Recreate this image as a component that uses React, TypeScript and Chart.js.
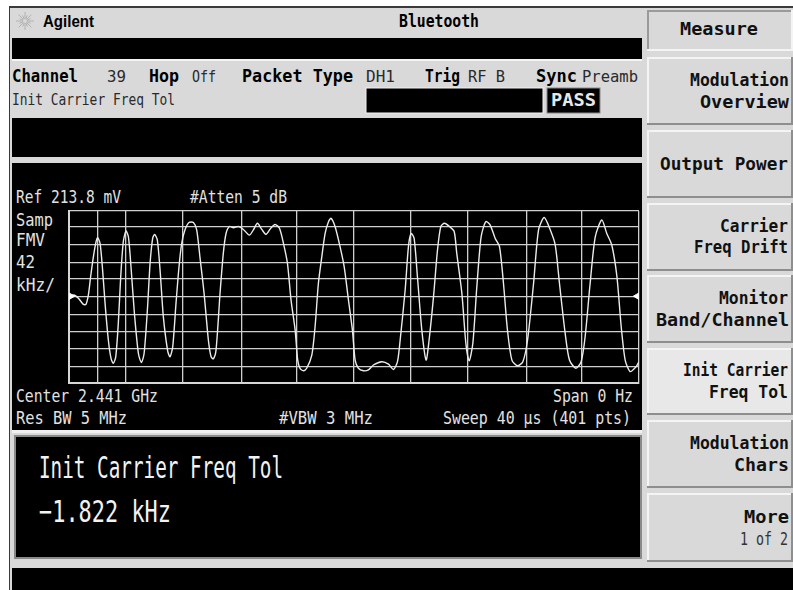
import React, { useEffect, useRef } from "react";
import { Chart, registerables } from "chart.js";

Chart.register(...registerables);

const timeUs = [0,0.35,0.66,1.01,1.19,1.36,1.52,1.71,1.9,2.01,2.18,2.34,2.53,2.76,2.95,3.11,3.28,3.46,3.63,3.81,4,4.17,4.35,4.59,4.87,5.08,5.27,5.5,5.69,5.87,6.01,6.2,6.39,6.62,6.93,7.09,7.28,7.51,7.72,7.91,8.14,8.42,8.73,8.96,9.2,9.48,9.78,9.97,10.13,10.32,10.6,10.83,11.02,11.26,11.54,11.89,12.24,12.66,12.94,13.22,13.53,13.83,14.16,14.46,14.77,15.05,15.33,15.58,15.87,16.05,16.22,16.45,16.68,17.04,17.27,17.5,17.74,17.97,18.21,18.39,18.67,19.02,19.31,19.61,19.89,20.08,20.31,20.66,21.01,21.36,21.95,22.42,22.77,23.05,23.24,23.59,23.82,24.01,24.22,24.45,24.76,25.06,25.27,25.58,25.86,26.09,26.35,26.7,27.03,27.21,27.57,27.85,28.08,28.34,28.62,28.92,29.25,29.55,29.91,30.21,30.49,30.77,31.08,31.47,31.85,32.18,32.6,32.95,33.35,33.77,34.12,34.42,34.82,35.12,35.57,35.94,36.22,36.57,36.93,37.39,37.74,38.09,38.45,38.75,39.03,39.38,39.8,40];
const freqKHz = [2,5,-3,-18,-18,5,50,98,135,145,131,74,-15,-105,-150,-162,-146,-64,50,135,161,147,74,-40,-138,-160,-138,-32,82,143,153,139,66,-48,-133,-146,-121,-15,74,131,164,182,182,164,94,9,-105,-146,-151,-129,9,107,155,172,169,172,165,151,164,180,165,153,168,177,168,131,82,-7,-81,-154,-175,-180,-174,-142,-72,33,98,155,184,192,172,123,74,-7,-81,-154,-174,-180,-178,-166,-158,-164,-177,-158,-105,17,123,155,143,50,-81,-154,-105,1,115,172,180,172,160,107,9,-113,-156,-113,25,147,184,176,143,123,33,-81,-154,-168,-158,-105,33,164,194,164,127,33,-89,-154,-174,-158,-97,33,147,188,155,127,50,-72,-154,-182,-170,-158];
const gridTimes = [0,2.04,4,8,12.1,16,20,24,28,32.1,36,40];
const gridFreqs = [210,171,127,85,44,2,-44,-85,-127,-171,-210];
const markerTimes = [0.12,39.88];
const markerFreq = [2,2];

type Label = [string, number, number, number, number?];
const MONO = "'DejaVu Sans Mono', monospace";

// text, left x, baseline y, fitted width
const headerBold: Label[] = [["Bluetooth",399,27,80]];
const statusBold: Label[] = [["Channel",12,82,66],["Hop",149,82,30],["Packet Type",242,82,111],["Trig",425,82,35],["Sync",536,82,41]];
const statusThin: Label[] = [["39",107,82,19],["Off",192,82,24],["DH1",366,82,29],["RF B",468,82,37],["Preamb",582,82,56],["Init Carrier Freq Tol",12,105,163]];
const traceText: Label[] = [["Ref 213.8 mV",16,203,105],["#Atten 5 dB",190,203,97],["Samp",16,226,37],["FMV",16,246,29],["42",16,268,19],["kHz/",16,291,39],["Center 2.441 GHz",16,402,142],["Res BW 5 MHz",16,424,111],["#VBW 3 MHz",279,424,94],["Span 0 Hz",553,402,80],["Sweep 40 µs (401 pts)",443,424,188]];
const softKeyBold: Label[] = [["Measure",680,35,78],["Modulation",690,86,99],["Overview",700,108,89],["Output Power",660,170,128],["Carrier",720,232,68],["Freq Drift",694,253,94],["Monitor",719,304,69],["Band/Channel",656,326,133],["Init Carrier",683,376,105],["Freq Tol",709,398,79],["Modulation",690,449,99],["Chars",734,471,55],["More",744,523,45]];
const softKeys = [[57,125],[130,198],[203,271],[275,343],[348,415],[420,488],[493,562]];
const rayAngles = [0,45,90,135,180,225,270,315,22,67,112,157,202,247,292,337];

function Text({ t, size, weight = 400, fill = "#000" }: { t: Label; size: number; weight?: number; fill?: string }) {
  return (
    <text x={t[1]} y={t[2]} textLength={t[3]} lengthAdjust="spacingAndGlyphs" fontFamily={MONO} fontSize={size} fontWeight={weight} fill={fill} xmlSpace="preserve">
      {t[0]}
    </text>
  );
}

export default function App() {
  const ref = useRef<HTMLCanvasElement>(null);
  useEffect(() => {
    document.body.style.margin = "0";
    document.body.style.background = "#fff";
    const chart = new Chart(ref.current!, {
      type: "line",
      data: {
        datasets: [
          {
            label: "Init Carrier Freq Tol",
            data: timeUs.map((x, i) => ({ x, y: freqKHz[i] })),
            borderColor: "#ececec",
            borderWidth: 1.4,
            pointRadius: 0,
            tension: 0.25,
            order: 1,
          },
          {
            label: "Markers",
            data: markerTimes.map((x, i) => ({ x, y: markerFreq[i] })),
            showLine: false,
            pointStyle: "triangle",
            pointRadius: 4,
            pointRotation: [90, 270],
            pointBackgroundColor: "#fff",
            pointBorderColor: "#fff",
            order: 0,
          },
        ],
      },
      options: {
        animation: false,
        responsive: false,
        layout: { padding: { left: 9, right: 11, top: 6, bottom: 7 } },
        plugins: { legend: { display: false }, tooltip: { enabled: false } },
        scales: {
          x: {
            type: "linear",
            min: 0,
            max: 40,
            afterBuildTicks: (a: any) => { a.ticks = gridTimes.map((value) => ({ value })); },
            ticks: { display: false },
            grid: { color: "#cfcfcf", lineWidth: 1.3, drawTicks: false },
            border: { color: "#d6d6d6", width: 2 },
          },
          y: {
            type: "linear",
            min: -210,
            max: 210,
            afterBuildTicks: (a: any) => { a.ticks = gridFreqs.map((value) => ({ value })); },
            ticks: { display: false },
            grid: { color: "#cfcfcf", lineWidth: 1.3, drawTicks: false },
            border: { color: "#d6d6d6", width: 2 },
          },
        },
      },
    } as any);
    return () => chart.destroy();
  }, []);

  return (
    <div style={{ position: "relative", width: 793, height: 590, overflow: "hidden", background: "#fff", filter: "blur(0.35px)" }}>
      <svg width={793} height={590} style={{ position: "absolute", left: 0, top: 0 }}>
        <rect x={9} y={6} width={784} height={584} fill="#3a3a3a" />
        <rect x={10} y={8} width={783} height={582} fill="#d9d9d9" />
        {/* black panels */}
        <rect x={12} y={38} width={630} height={21} fill="#000" />
        <rect x={12} y={59} width={630} height={2} fill="#f4f4f4" />
        <rect x={12} y={118} width={630} height={39} fill="#000" />
        <rect x={12} y={163} width={630} height={267} fill="#000" />
        <rect x={12} y={430} width={630} height={3} fill="#f0f0f0" />
        <rect x={15} y={436} width={626} height={122} fill="#000" stroke="#8a8a8a" strokeWidth={2} />
        <rect x={12} y={568} width={781} height={22} fill="#000" />
        <rect x={366} y={88} width={177} height={25} fill="#000" stroke="#f2f2f2" strokeWidth={1} />
        <rect x={547} y={88} width={53} height={25} fill="#000" stroke="#8a8a8a" strokeWidth={1} />
        {/* soft keys */}
        <rect x={647} y={10} width={146} height={41} fill="#f4f4f4" />
        <rect x={647} y={10} width={144} height={39} fill="#9a9a9a" />
        <rect x={649} y={12} width={142} height={37} fill="#d9d9d9" />
        {softKeys.map(([a, b], i) => (
          <g key={i}>
            <rect x={647} y={a} width={146} height={b - a} fill="#8e8e8e" />
            <rect x={647} y={a} width={144} height={b - a - 2} fill="#f4f4f4" />
            <rect x={649} y={a + 2} width={142} height={b - a - 4} fill={i === 4 ? "#e8e8e8" : "#d9d9d9"} />
          </g>
        ))}
        {/* Agilent spark */}
        {rayAngles.map((a) => {
          const r = (a * Math.PI) / 180;
          const len = a % 45 === 0 ? 9 : 6;
          return <line key={a} x1={25 + Math.cos(r) * 2} y1={21 + Math.sin(r) * 2} x2={25 + Math.cos(r) * len} y2={21 + Math.sin(r) * len} stroke="#a8a8a8" strokeWidth={0.8} />;
        })}
        <text x={43} y={27} textLength={51} lengthAdjust="spacingAndGlyphs" fontFamily="'Liberation Sans', sans-serif" fontWeight={700} fontSize={17}>Agilent</text>
        {headerBold.map((t) => <Text key={t[0]} t={t} size={17} weight={700} />)}
        {statusBold.map((t) => <Text key={t[0]} t={t} size={17} weight={700} />)}
        {statusThin.map((t) => <Text key={t[0]} t={t} size={16.5} fill="#2a2a2a" />)}
        <Text t={["PASS",551,106,45]} size={17} weight={700} fill="#e8e8e8" />
        {traceText.map((t) => <Text key={t[0]} t={t} size={17} fill="#e2e2e2" />)}
        <Text t={["Init Carrier Freq Tol",39,478,244]} size={31} fill="#f2f2f2" />
        <Text t={["−1.822 kHz",39,522,132]} size={31} fill="#f2f2f2" />
        {softKeyBold.map((t, i) => <Text key={i} t={t} size={18} weight={700} fill="#111" />)}
        <Text t={["1 of 2",740,545,48]} size={17} fill="#333" />
      </svg>
      <canvas ref={ref} width={590} height={185} style={{ position: "absolute", left: 60, top: 205, width: 590, height: 185 }} />
    </div>
  );
}
